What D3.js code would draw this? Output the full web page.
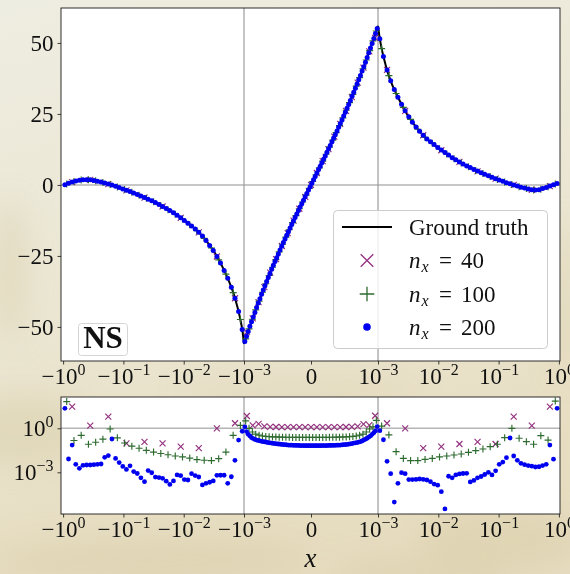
<!DOCTYPE html>
<html>
<head>
<meta charset="utf-8">
<script src="https://cdn.jsdelivr.net/npm/d3@7"></script>
<style>
  body { margin: 0; background: #ebe8d9; }
  svg { display: block; }
  text { font-family: "Liberation Serif", "Times New Roman", serif; fill: #111; }
</style>
</head>
<body>
<svg id="fig" width="570" height="574"></svg>
<script>
/* ############################## DATA ############################## */
// x ticks (symlog axis, linear between -1e-3 and 1e-3)
const xTickVals = [-1, -0.1, -0.01, -0.001, 0, 0.001, 0.01, 0.1, 1];
const xTickBase = ["−10", "−10", "−10", "−10", "0", "10", "10", "10", "10"];
const xTickExp  = ["0", "−1", "−2", "−3", "", "−3", "−2", "−1", "0"];
// top panel y ticks
const uTickVals = [-50, -25, 0, 25, 50];
const uTickLabels = ["−50", "−25", "0", "25", "50"];
// bottom panel (log) y ticks
const errTickVals = [1e-3, 1];
const errTickBase = ["10", "10"];
const errTickExp = ["−3", "0"];

const legendLabels = ["Ground truth", "40", "100", "200"];
const panelTag = "NS";

// ground truth curve
const gtX = [-1, -0.933, -0.708, -0.562, -0.447, -0.355, -0.251, -0.158, -0.1, -0.0631,
  -0.0398, -0.0251, -0.0158, -0.01, -6.31e-3, -5.01e-3, -3.98e-3, -3.16e-3, -2.51e-3, -2.0e-3,
  -1.74e-3, -1.51e-3, -1.41e-3, -1.32e-3, -1.23e-3, -1.15e-3, -1.07e-3, -1e-3,
  -9e-4, -8e-4, -7e-4, -6e-4, -5e-4, -4e-4, -3e-4, -2e-4, -1e-4, 0,
  1e-4, 2e-4, 3e-4, 4e-4, 5e-4, 6e-4, 7e-4, 8e-4, 9e-4, 1e-3,
  1.07e-3, 1.15e-3, 1.23e-3, 1.32e-3, 1.41e-3, 1.51e-3, 1.74e-3, 2.0e-3, 2.51e-3, 3.16e-3,
  3.98e-3, 5.01e-3, 6.31e-3, 0.01, 0.0158, 0.0251, 0.0398, 0.0631, 0.1, 0.158,
  0.251, 0.355, 0.447, 0.562, 0.708, 0.933, 1];
const gtY = [0, 0.1, 1.0, 1.6, 1.9, 1.8, 1.2, 0, -1.5, -3.1,
  -4.9, -7.0, -9.4, -12.3, -15.7, -17.8, -20.4, -23.4, -27.1, -31.4,
  -34.4, -37.9, -39.9, -42.1, -44.6, -47.4, -50.9, -56,
  -49.0, -42.4, -36.3, -30.4, -24.9, -19.6, -14.6, -9.6, -4.8, 0,
  4.8, 9.6, 14.6, 19.6, 24.9, 30.4, 36.3, 42.4, 49.0, 56,
  51.5, 48.0, 45.2, 42.7, 40.5, 38.5, 35.0, 32.2, 28.0, 24.3,
  21.2, 18.6, 16.4, 13.0, 10.0, 7.5, 5.3, 3.5, 1.8, 0.3,
  -1.0, -1.7, -1.8, -1.2, -0.4, 0.5, 0.6];

// grid of n_x = 40 (|x|, inner = linear part, outer = log part)
const inner40 = [8.7e-5, 1.74e-4, 2.61e-4, 3.48e-4, 4.35e-4, 5.22e-4, 6.09e-4, 6.96e-4, 7.83e-4, 8.70e-4, 9.57e-4];
const outer40 = [1.41e-3, 2.82e-3, 5.62e-3, 1.12e-2, 2.24e-2, 4.47e-2, 8.91e-2, 0.178, 0.355, 0.708];
const u40 = [1.0, 1.8, 0.3, -1.9, -4.45, -7.6, -11.6, -16.7, -25.2, -39.9,
  -51.8, -47.0, -41.3, -36.0, -30.9, -26.1, -21.5, -17.0, -12.6, -8.4, -4.2, 0,
  4.2, 8.4, 12.6, 17.0, 21.5, 26.1, 30.9, 36.0, 41.3, 47.0, 51.8,
  40.5, 26.1, 17.5, 12.2, 8.1, 4.8, 2.2, 0.0, -1.7, -0.4];
const e40 = [30, 1.5, 6.3, 0.095, 0.12, 0.095, 0.056, 0.044, 1.0, 2.2,
  6.9, 1.6, 2.0, 1.35, 1.26, 1.23, 1.2, 1.2, 1.2, 1.2, 1.2, 1.2,
  1.2, 1.2, 1.2, 1.2, 1.2, 1.23, 1.26, 1.35, 1.9, 1.66, 7.2,
  2.2, 1.0, 0.044, 0.056, 0.085, 0.12, 0.085, 6.3, 1.5, 30];

// grid of n_x = 100
const inner100 = [2.5e-5, 7.5e-5, 1.25e-4, 1.75e-4, 2.25e-4, 2.75e-4, 3.25e-4, 3.75e-4, 4.25e-4, 4.75e-4,
  5.25e-4, 5.75e-4, 6.25e-4, 6.75e-4, 7.25e-4, 7.75e-4, 8.25e-4, 8.75e-4, 9.25e-4, 9.75e-4];
const outer100 = [1.148e-3, 1.514e-3, 1.995e-3, 2.630e-3, 3.467e-3, 4.571e-3, 6.026e-3, 7.943e-3, 1.047e-2, 1.380e-2,
  1.820e-2, 2.399e-2, 3.162e-2, 4.169e-2, 5.495e-2, 7.244e-2, 9.550e-2, 0.1259, 0.1660, 0.2188,
  0.2884, 0.3802, 0.5012, 0.6607, 0.8710];
const u100 = [0.35, 1.2, 1.75, 1.85, 1.45, 0.85, 0.15, -0.75, -1.65, -2.6,
  -3.65, -4.7, -5.9, -7.25, -8.7, -10.3, -12.0, -14.0, -16.1, -18.8,
  -22.2, -26.4, -31.4, -37.9, -47.4,
  -54.2, -50.7, -47.3, -44.0, -40.9, -37.8, -34.8, -31.9, -29.0, -26.3,
  -23.6, -20.9, -18.4, -15.8, -13.3, -10.8, -8.4, -6.0, -3.6, -1.2,
  1.2, 3.6, 6.0, 8.4, 10.8, 13.3, 15.8, 18.4, 20.9, 23.6,
  26.3, 29.0, 31.9, 34.8, 37.8, 40.9, 44.0, 47.3, 50.7, 54.2,
  48.0, 38.5, 32.2, 27.3, 23.1, 19.6, 16.8, 14.7, 12.7, 10.9,
  9.25, 7.75, 6.4, 5.1, 4.0, 3.0, 1.95, 1.05, 0.17, -0.6,
  -1.3, -1.75, -1.5, -0.65, 0.3];
const e100 = [66, 0.148, 0.331, 0.0813, 0.112, 0.182, 0.891, 0.224, 0.1, 0.0603,
  0.0437, 0.0316, 0.024, 0.0191, 0.0158, 0.0129, 0.0112, 0.0093, 0.0074, 0.0066,
  0.0063, 0.0085, 0.024, 0.33, 1.58,
  3.2, 1.0, 0.56, 0.4, 0.34, 0.3, 0.28, 0.27, 0.26, 0.26,
  0.25, 0.25, 0.245, 0.245, 0.24, 0.24, 0.24, 0.24, 0.24, 0.24,
  0.24, 0.24, 0.24, 0.24, 0.24, 0.245, 0.245, 0.25, 0.25, 0.26,
  0.26, 0.27, 0.28, 0.3, 0.34, 0.4, 0.56, 0.89, 1.26, 3.5,
  1.41, 0.355, 0.0257, 0.0089, 0.0063, 0.0063, 0.0076, 0.0089, 0.0112, 0.0129,
  0.0151, 0.0178, 0.0229, 0.0302, 0.0389, 0.0562, 0.0813, 0.229, 1.0, 0.209,
  0.123, 0.0813, 0.316, 0.158, 72];

// grid of n_x = 200
const inner200 = [1.25e-5, 3.75e-5, 6.25e-5, 8.75e-5, 1.125e-4, 1.375e-4, 1.625e-4, 1.875e-4, 2.125e-4, 2.375e-4,
  2.625e-4, 2.875e-4, 3.125e-4, 3.375e-4, 3.625e-4, 3.875e-4, 4.125e-4, 4.375e-4, 4.625e-4, 4.875e-4,
  5.125e-4, 5.375e-4, 5.625e-4, 5.875e-4, 6.125e-4, 6.375e-4, 6.625e-4, 6.875e-4, 7.125e-4, 7.375e-4,
  7.625e-4, 7.875e-4, 8.125e-4, 8.375e-4, 8.625e-4, 8.875e-4, 9.125e-4, 9.375e-4, 9.625e-4, 9.875e-4];
const outer200 = [1.072e-3, 1.230e-3, 1.413e-3, 1.622e-3, 1.862e-3, 2.138e-3, 2.455e-3, 2.818e-3, 3.236e-3, 3.715e-3,
  4.266e-3, 4.898e-3, 5.623e-3, 6.457e-3, 7.413e-3, 8.511e-3, 9.772e-3, 1.122e-2, 1.288e-2, 1.479e-2,
  1.698e-2, 1.950e-2, 2.239e-2, 2.570e-2, 2.951e-2, 3.388e-2, 3.890e-2, 4.467e-2, 5.129e-2, 5.888e-2,
  6.761e-2, 7.762e-2, 8.913e-2, 0.1023, 0.1175, 0.1349, 0.1549, 0.1778, 0.2042, 0.2344,
  0.2692, 0.3090, 0.3548, 0.4074, 0.4677, 0.5370, 0.6166, 0.7079, 0.8128, 0.9333];
const u200 = [0.1, 0.55, 1.0, 1.35, 1.65, 1.85, 1.85, 1.8, 1.6, 1.3,
  1.0, 0.65, 0.3, -0.05, -0.45, -0.95, -1.4, -1.9, -2.35, -2.85,
  -3.35, -3.9, -4.4, -5.0, -5.6, -6.2, -6.9, -7.6, -8.3, -9.0,
  -9.8, -10.7, -11.6, -12.5, -13.5, -14.5, -15.5, -16.7, -18.0, -19.6,
  -21.3, -23.1, -25.2, -27.5, -30.1, -32.9, -36.0, -39.9, -44.6, -50.9,
  -55.1, -53.3, -51.6, -49.8, -48.2, -46.5, -44.9, -43.2, -41.6, -40.1,
  -38.5, -37.0, -35.5, -34.0, -32.6, -31.2, -29.7, -28.3, -27.0, -25.6,
  -24.3, -22.9, -21.6, -20.3, -19.0, -17.7, -16.5, -15.2, -13.9, -12.7,
  -11.5, -10.2, -9.0, -7.8, -6.6, -5.4, -4.2, -3.0, -1.8, -0.6,
  0.6, 1.8, 3.0, 4.2, 5.4, 6.6, 7.8, 9.0, 10.2, 11.5,
  12.7, 13.9, 15.2, 16.5, 17.7, 19.0, 20.3, 21.6, 22.9, 24.3,
  25.6, 27.0, 28.3, 29.7, 31.2, 32.6, 34.0, 35.5, 37.0, 38.5,
  40.1, 41.6, 43.2, 44.9, 46.5, 48.2, 49.8, 51.6, 53.3, 55.1,
  51.5, 45.2, 40.5, 36.7, 33.6, 30.9, 28.4, 26.1, 24.0, 22.1,
  20.4, 18.9, 17.5, 16.2, 15.2, 14.2, 13.2, 12.3, 11.4, 10.5,
  9.6, 8.9, 8.1, 7.4, 6.7, 6.1, 5.4, 4.9, 4.3, 3.8,
  3.2, 2.7, 2.2, 1.7, 1.3, 0.8, 0.4, 0.0, -0.4, -0.8,
  -1.1, -1.4, -1.7, -1.8, -1.7, -1.3, -0.9, -0.4, 0.05, 0.5];
const e200 = [23, 8.1e-3, 7.2e-2, 3.5e-3, 1.86e-3, 3.0e-3, 3.16e-3, 3.16e-3, 3.3e-3, 3.5e-3,
  3.7e-3, 1.05e-2, 1.38e-2, 0.186, 8.9e-3, 4.6e-3, 2.5e-3, 1.58e-3, 2.75e-3, 1.12e-3,
  8.3e-4, 4.2e-4, 2.3e-4, 1.32e-3, 9.3e-4, 4.7e-4, 4.4e-4, 3.9e-4, 2.5e-4, 1.5e-4,
  2.6e-4, 6.6e-4, 5.9e-4, 3.2e-4, 3.0e-4, 8.1e-4, 6.0e-4, 4.8e-4, 1.38e-4, 1.78e-4,
  2.1e-4, 2.6e-4, 6.2e-4, 6.3e-4, 6.3e-4, 1.78e-4, 5.0e-4, 6.6e-3, 0.158, 0.63,
  1.26, 0.6, 0.39, 0.3, 0.23, 0.2, 0.174, 0.158, 0.148, 0.138,
  0.129, 0.123, 0.117, 0.112, 0.107, 0.102, 0.098, 0.093, 0.091, 0.087,
  0.085, 0.083, 0.079, 0.078, 0.076, 0.074, 0.072, 0.071, 0.071, 0.069,
  0.069, 0.068, 0.068, 0.066, 0.066, 0.066, 0.065, 0.065, 0.065, 0.065,
  0.065, 0.065, 0.065, 0.065, 0.065, 0.065, 0.066, 0.066, 0.066, 0.066,
  0.068, 0.068, 0.068, 0.069, 0.069, 0.071, 0.071, 0.072, 0.074, 0.076,
  0.078, 0.079, 0.083, 0.087, 0.091, 0.098, 0.102, 0.107, 0.115, 0.123,
  0.138, 0.158, 0.182, 0.209, 0.251, 0.302, 0.389, 0.5, 0.66, 1.32,
  0.69, 0.166, 5.6e-3, 8.1e-4, 9.3e-6, 1.78e-4, 9.5e-4, 8.1e-4, 3.2e-4, 3.2e-4,
  3.3e-4, 3.5e-4, 3.3e-4, 3.0e-4, 2.3e-4, 1.58e-4, 1.32e-4, 4.8e-5, 3.2e-6, 5.4e-4,
  4.2e-4, 6.6e-4, 7.8e-4, 8.3e-4, 8.5e-4, 2.2e-4, 2.8e-4, 4.2e-4, 5.2e-4, 7.1e-4,
  1.0e-3, 6.6e-4, 1.26e-3, 3.5e-3, 5.0e-3, 1.0e-2, 0.219, 1.29e-2, 6.6e-3, 4.1e-3,
  3.3e-3, 2.9e-3, 2.6e-3, 2.3e-3, 2.4e-3, 2.9e-3, 3.5e-3, 7.2e-2, 7.9e-3, 23];

/* ############################## HELPERS ############################## */
// symmetric grid: -outer, -inner, (0), inner, outer
function mirrorGrid(inner, outer, withZero) {
  let left = outer.slice().reverse().concat(inner.slice().reverse()).map((v) => -v);
  let mid = withZero ? [0] : [];
  return left.concat(mid, inner, outer);
} // end mirrorGrid

function zipSeries(xs, us, es) {
  return xs.map((x, i) => ({ x: x, u: us[i], e: es[i] }));
} // end zipSeries

// matplotlib symlog transform, linthresh 1e-3, linscale 1
const LINTHRESH = 1e-3;
const LINSCALE = 1 / (1 - 1 / 10);
function symlog(v) {
  let a = Math.abs(v) / LINTHRESH;
  let t = a <= 1 ? a * LINSCALE : LINSCALE + Math.log10(a);
  return v < 0 ? -t : t;
} // end symlog

// math-like label: base + superscript
function supLabel(sel, base, exp) {
  sel.text(null);
  sel.append("tspan").text(base);
  if (exp) sel.append("tspan").attr("font-size", 16).attr("dy", -9).text(exp);
} // end supLabel

const series = [
  { key: "40", data: zipSeries(mirrorGrid(inner40, outer40, true), u40, e40), color: "#93307f", mark: "x" },
  { key: "100", data: zipSeries(mirrorGrid(inner100, outer100, false), u100, e100), color: "#2d6b2f", mark: "+" },
  { key: "200", data: zipSeries(mirrorGrid(inner200, outer200, false), u200, e200), color: "#0000f0", mark: "o" },
];

/* ############################## SCALES ############################## */
const topBox = { left: 61, right: 560, top: 8, bottom: 361 };
const botBox = { left: 61, right: 560, top: 397, bottom: 514 };

let xT = d3.scaleLinear().domain([-4.146, 4.129]).range([topBox.left, topBox.right]);
let xPos = (v) => xT(symlog(v));
let yTop = d3.scaleLinear().domain([-62, 62.3]).range([topBox.bottom, topBox.top]);
let yErr = d3.scaleLog().domain([1.44e-6, 136]).range([botBox.bottom, botBox.top]);

/* ############################## DRAWING ############################## */
let svg = d3.select("#fig");
let defs = svg.append("defs");

function drawBackground() {
  let grad = defs.append("linearGradient").attr("id", "bg")
    .attr("x1", 0).attr("y1", 0).attr("x2", 0.25).attr("y2", 1);
  grad.append("stop").attr("offset", 0).attr("stop-color", "#eeede1");
  grad.append("stop").attr("offset", 0.55).attr("stop-color", "#ebe6d2");
  grad.append("stop").attr("offset", 1).attr("stop-color", "#e6dcbf");
  defs.append("filter").attr("id", "soft").attr("x", "-50%").attr("y", "-50%")
    .attr("width", "200%").attr("height", "200%")
    .append("feGaussianBlur").attr("stdDeviation", 14);
  svg.append("rect").attr("width", 570).attr("height", 574).attr("fill", "url(#bg)");
  let blobs = [
    [25, 430, 70, 35], [150, 560, 160, 22], [500, 540, 80, 30],
    [10, 270, 18, 70], [565, 300, 10, 80], [300, 392, 120, 8], [420, 575, 90, 18],
  ];
  svg.append("g").attr("filter", "url(#soft)").selectAll("ellipse").data(blobs).enter()
    .append("ellipse")
    .attr("cx", (d) => d[0]).attr("cy", (d) => d[1])
    .attr("rx", (d) => d[2]).attr("ry", (d) => d[3])
    .attr("fill", "#d6caa6").attr("opacity", 0.4);
} // end drawBackground

function markerPath(mark, s) {
  if (mark === "x") return `M${-s},${-s}L${s},${s}M${-s},${s}L${s},${-s}`;
  return `M${-s},0H${s}M0,${-s}V${s}`;
} // end markerPath

function drawMarkers(g, data, s, yScale, yKey, size) {
  let sel = g.append("g");
  if (s.mark === "o") {
    sel.selectAll("circle").data(data).enter().append("circle")
      .attr("cx", (d) => xPos(d.x)).attr("cy", (d) => yScale(d[yKey]))
      .attr("r", size).attr("fill", s.color);
  } else {
    sel.selectAll("path").data(data).enter().append("path")
      .attr("transform", (d) => `translate(${xPos(d.x)},${yScale(d[yKey])})`)
      .attr("d", markerPath(s.mark, size))
      .attr("fill", "none").attr("stroke", s.color).attr("stroke-width", 1.15);
  }
} // end drawMarkers

function panelBase(box, id) {
  svg.append("rect").attr("x", box.left).attr("y", box.top)
    .attr("width", box.right - box.left).attr("height", box.bottom - box.top).attr("fill", "white");
  defs.append("clipPath").attr("id", id).append("rect")
    .attr("x", box.left).attr("y", box.top)
    .attr("width", box.right - box.left).attr("height", box.bottom - box.top);
  return svg.append("g").attr("clip-path", `url(#${id})`);
} // end panelBase

function drawGuides(g, box, yRef) {
  g.append("line").attr("x1", box.left).attr("x2", box.right)
    .attr("y1", yRef).attr("y2", yRef).attr("stroke", "#b5b5b5").attr("stroke-width", 1.6);
  [-LINTHRESH, LINTHRESH].forEach((v) => {
    g.append("line").attr("x1", xPos(v)).attr("x2", xPos(v))
      .attr("y1", box.top).attr("y2", box.bottom).attr("stroke", "#9c9c9c").attr("stroke-width", 1.2);
  });
} // end drawGuides

// d3 axis sets font-size 10 on first call, so style after calling
function styleAxis(g) {
  g.attr("font-size", 23).attr("font-family", null);
  g.select(".domain").remove();
  g.selectAll(".tick line").attr("stroke", "#111").attr("stroke-width", 0.8);
} // end styleAxis

function drawXAxis(box) {
  let axis = d3.axisBottom(xT).tickValues(xTickVals.map(symlog))
    .tickSize(3.5).tickSizeOuter(0).tickPadding(3).tickFormat(() => "");
  let g = svg.append("g").attr("transform", `translate(0,${box.bottom})`).call(axis);
  styleAxis(g);
  g.selectAll(".tick text").each(function (d, i) {
    supLabel(d3.select(this), xTickBase[i], xTickExp[i]);
  });
} // end drawXAxis

function drawFrame(box) {
  svg.append("rect").attr("x", box.left).attr("y", box.top)
    .attr("width", box.right - box.left).attr("height", box.bottom - box.top)
    .attr("fill", "none").attr("stroke", "#1a1a1a").attr("stroke-width", 0.9);
} // end drawFrame

function drawTopPanel() {
  let g = panelBase(topBox, "clipTop");
  drawGuides(g, topBox, yTop(0));

  // ground truth in three pieces (cusps at +-1e-3)
  let gt = gtX.map((x, i) => ({ x: x, u: gtY[i] }));
  let pieces = [
    gt.filter((d) => d.x <= -LINTHRESH),
    gt.filter((d) => d.x >= -LINTHRESH && d.x <= LINTHRESH),
    gt.filter((d) => d.x >= LINTHRESH),
  ];
  let line = d3.line().x((d) => xPos(d.x)).y((d) => yTop(d.u)).curve(d3.curveMonotoneX);
  pieces.forEach((p) => {
    g.append("path").datum(p).attr("d", line)
      .attr("fill", "none").attr("stroke", "black").attr("stroke-width", 2);
  });

  series.forEach((s) => {
    let size = s.mark === "o" ? 2.5 : (s.mark === "x" ? 3 : 3.5);
    drawMarkers(g, s.data, s, yTop, "u", size);
  });

  // y axis
  let axisY = d3.axisLeft(yTop).tickValues(uTickVals).tickSize(3.5).tickSizeOuter(0)
    .tickPadding(4).tickFormat((d, i) => uTickLabels[i]);
  let ga = svg.append("g").attr("transform", `translate(${topBox.left},0)`).call(axisY);
  styleAxis(ga);

  drawXAxis(topBox);
  drawFrame(topBox);

  // legend
  let lg = svg.append("g");
  lg.append("rect").attr("x", 333.5).attr("y", 210.5).attr("width", 214).attr("height", 138)
    .attr("rx", 4).attr("fill", "white").attr("fill-opacity", 0.8).attr("stroke", "#cccccc");
  let rowY = [227, 260.5, 294, 327];
  lg.append("line").attr("x1", 342).attr("x2", 392).attr("y1", rowY[0]).attr("y2", rowY[0])
    .attr("stroke", "black").attr("stroke-width", 2);
  lg.append("text").attr("x", 409).attr("y", rowY[0] + 8).attr("font-size", 23).text(legendLabels[0]);
  series.forEach((s, i) => {
    let cy = rowY[i + 1];
    if (s.mark === "o") {
      lg.append("circle").attr("cx", 367).attr("cy", cy).attr("r", 3.8).attr("fill", s.color);
    } else {
      lg.append("path").attr("transform", `translate(367,${cy})`)
        .attr("d", markerPath(s.mark, s.mark === "x" ? 6.3 : 7.3))
        .attr("fill", "none").attr("stroke", s.color).attr("stroke-width", 1.3);
    }
    let t = lg.append("text").attr("y", cy + 7.5).attr("font-size", 23);
    t.append("tspan").attr("x", 409).attr("font-style", "italic").text("n");
    t.append("tspan").attr("x", 421.5).attr("dy", 4).attr("font-size", 16).attr("font-style", "italic").text("x");
    t.append("tspan").attr("x", 439).attr("dy", -4).text("=");
    t.append("tspan").attr("x", 461).text(legendLabels[i + 1]);
  });

  // panel tag
  svg.append("rect").attr("x", 78.5).attr("y", 323.5).attr("width", 49).attr("height", 32)
    .attr("rx", 3).attr("fill", "white").attr("fill-opacity", 0.8).attr("stroke", "#d5d5d5");
  svg.append("text").attr("x", 103).attr("y", 347.5).attr("text-anchor", "middle")
    .attr("font-size", 31).attr("font-weight", "bold").text(panelTag);
} // end drawTopPanel

function drawBottomPanel() {
  let g = panelBase(botBox, "clipBot");
  drawGuides(g, botBox, yErr(1));
  series.forEach((s) => {
    let size = s.mark === "o" ? 2.4 : (s.mark === "x" ? 3 : 3.5);
    drawMarkers(g, s.data, s, yErr, "e", size);
  });

  let axisY = d3.axisLeft(yErr).tickValues(errTickVals).tickSize(3.5).tickSizeOuter(0)
    .tickPadding(4).tickFormat(() => "");
  let ga = svg.append("g").attr("transform", `translate(${botBox.left},0)`).call(axisY);
  styleAxis(ga);
  ga.selectAll(".tick text").each(function (d, i) {
    supLabel(d3.select(this), errTickBase[i], errTickExp[i]);
  });

  drawXAxis(botBox);
  drawFrame(botBox);

  svg.append("text").attr("x", 310.5).attr("y", 567).attr("text-anchor", "middle")
    .attr("font-size", 27).attr("font-style", "italic").text("x");
} // end drawBottomPanel

drawBackground();
drawTopPanel();
drawBottomPanel();
</script>
</body>
</html>
